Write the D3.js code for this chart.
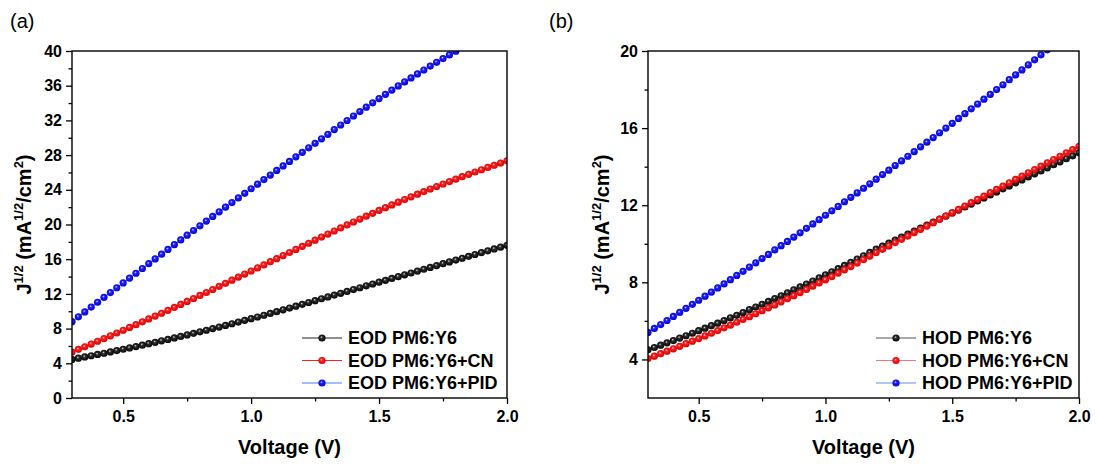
<!DOCTYPE html>
<html>
<head>
<meta charset="utf-8">
<script src="https://cdn.jsdelivr.net/npm/d3@7"></script>
<style>
  body { margin: 0; background: #fff; }
  text { font-family: "Liberation Sans", Arial, sans-serif; fill: #000; }
</style>
</head>
<body>
<svg id="chart" width="1097" height="468"></svg>
<script>
// voltage sweep (V), one point every 25 mV
const voltage = [0.3,0.325,0.35,0.375,0.4,0.425,0.45,0.475,0.5,0.525,0.55,0.575,0.6,0.625,0.65,0.675,0.7,0.725,0.75,0.775,0.8,0.825,0.85,0.875,0.9,0.925,0.95,0.975,1.0,1.025,1.05,1.075,1.1,1.125,1.15,1.175,1.2,1.225,1.25,1.275,1.3,1.325,1.35,1.375,1.4,1.425,1.45,1.475,1.5,1.525,1.55,1.575,1.6,1.625,1.65,1.675,1.7,1.725,1.75,1.775,1.8,1.825,1.85,1.875,1.9,1.925,1.95,1.975,2.0];

// (a) electron-only devices, J^1/2
const eodPM6Y6 = [4.45,4.59,4.73,4.87,5.02,5.16,5.31,5.47,5.62,5.77,5.93,6.09,6.26,6.42,6.59,6.75,6.93,7.10,7.27,7.45,7.63,7.81,8.00,8.18,8.37,8.56,8.75,8.95,9.14,9.34,9.54,9.75,9.95,10.16,10.37,10.58,10.80,11.01,11.22,11.44,11.65,11.86,12.07,12.29,12.50,12.71,12.93,13.14,13.35,13.56,13.78,13.99,14.20,14.41,14.63,14.84,15.05,15.26,15.48,15.69,15.90,16.11,16.33,16.54,16.75,16.96,17.18,17.39,17.60];
const eodPM6Y6CN = [5.30,5.61,5.91,6.22,6.54,6.85,7.17,7.49,7.81,8.13,8.45,8.78,9.11,9.44,9.77,10.11,10.45,10.79,11.13,11.47,11.82,12.16,12.51,12.87,13.22,13.58,13.93,14.29,14.64,15.00,15.35,15.71,16.06,16.42,16.77,17.13,17.48,17.84,18.19,18.55,18.90,19.25,19.60,19.95,20.29,20.63,20.96,21.29,21.62,21.94,22.26,22.57,22.88,23.19,23.49,23.79,24.09,24.38,24.67,24.95,25.23,25.51,25.78,26.05,26.31,26.58,26.83,27.09,27.34];
const eodPM6Y6PID = [8.80,9.36,9.92,10.48,11.04,11.60,12.15,12.71,13.27,13.82,14.38,14.93,15.48,16.03,16.58,17.13,17.68,18.22,18.77,19.31,19.85,20.39,20.93,21.46,22.00,22.53,23.06,23.59,24.12,24.65,25.18,25.70,26.23,26.75,27.27,27.80,28.32,28.84,29.36,29.88,30.40,30.94,31.47,31.99,32.51,33.02,33.53,34.03,34.52,35.01,35.49,35.97,36.44,36.90,37.36,37.81,38.26,38.70,39.13,39.55,39.98];

// (b) hole-only devices, J^1/2
const hodPM6Y6 = [4.50,4.62,4.74,4.86,4.98,5.11,5.23,5.36,5.49,5.62,5.75,5.88,6.02,6.16,6.29,6.43,6.58,6.72,6.86,7.01,7.16,7.30,7.45,7.61,7.76,7.91,8.07,8.23,8.39,8.55,8.71,8.88,9.04,9.21,9.38,9.55,9.72,9.88,10.03,10.19,10.35,10.50,10.66,10.81,10.97,11.13,11.28,11.44,11.60,11.75,11.91,12.06,12.22,12.38,12.53,12.69,12.85,13.00,13.16,13.31,13.47,13.63,13.78,13.94,14.10,14.25,14.41,14.56,14.72];
const hodPM6Y6CN = [4.05,4.17,4.30,4.43,4.55,4.68,4.82,4.95,5.08,5.22,5.36,5.50,5.64,5.78,5.93,6.08,6.22,6.37,6.53,6.68,6.83,6.99,7.15,7.31,7.47,7.63,7.80,7.97,8.13,8.30,8.48,8.65,8.82,9.00,9.18,9.36,9.54,9.71,9.89,10.06,10.23,10.40,10.58,10.75,10.92,11.09,11.27,11.44,11.61,11.78,11.96,12.13,12.30,12.47,12.65,12.82,12.99,13.16,13.34,13.51,13.68,13.85,14.03,14.20,14.37,14.54,14.72,14.89,15.06];
const hodPM6Y6PID = [5.40,5.61,5.81,6.02,6.23,6.44,6.65,6.86,7.07,7.28,7.49,7.71,7.92,8.14,8.36,8.57,8.79,9.01,9.23,9.45,9.68,9.90,10.12,10.35,10.57,10.80,11.03,11.25,11.48,11.71,11.94,12.18,12.41,12.64,12.88,13.11,13.35,13.59,13.82,14.06,14.30,14.54,14.78,15.03,15.27,15.51,15.76,16.00,16.25,16.50,16.75,17.00,17.25,17.50,17.75,18.00,18.25,18.51,18.76,19.02,19.28,19.54,19.80,20.06];

const xMajor = [0.5, 1.0, 1.5, 2.0];
const xMinor = [0.75, 1.25, 1.75];
const yMajorA = [0, 4, 8, 12, 16, 20, 24, 28, 32, 36, 40];
const yMinorA = [2, 6, 10, 14, 18, 22, 26, 30, 34, 38];
const yMajorB = [4, 8, 12, 16, 20];
const yMinorB = [6, 10, 14, 18];

const namesA = ["EOD PM6:Y6", "EOD PM6:Y6+CN", "EOD PM6:Y6+PID"];
const namesB = ["HOD PM6:Y6", "HOD PM6:Y6+CN", "HOD PM6:Y6+PID"];

const balls = ["black", "red", "blue"];
const ballStops = {
  black: ["#e0e0e0", "#2e2e2e", "#000000"],
  red:   ["#ffe0e0", "#ff2020", "#d00000"],
  blue:  ["#e0e0ff", "#2020ff", "#0000c8"]
};
const lineColorsA = ["#222", "#ff2020", "#4a7ff0"];
const lineColorsB = ["#555", "#f07878", "#5a90f0"];

const svg = d3.select("#chart");
const defs = svg.append("defs");

balls.forEach(b => {
  const g = defs.append("radialGradient")
    .attr("id", "ball-" + b)
    .attr("cx", "50%").attr("cy", "50%").attr("r", "55%")
    .attr("fx", "40%").attr("fy", "36%");
  g.append("stop").attr("offset", "0%").attr("stop-color", ballStops[b][0]);
  g.append("stop").attr("offset", "32%").attr("stop-color", ballStops[b][1]);
  g.append("stop").attr("offset", "100%").attr("stop-color", ballStops[b][2]);
});

function yTitle(x, y) {
  const t = svg.append("text")
    .attr("transform", `translate(${x},${y}) rotate(-90)`)
    .attr("text-anchor", "middle")
    .style("font-weight", "bold")
    .style("font-size", "20px");
  t.append("tspan").text("J");
  t.append("tspan").attr("dy", -8).style("font-size", "13px").text("1/2");
  t.append("tspan").attr("dy", 8).text(" (mA");
  t.append("tspan").attr("dy", -8).style("font-size", "13px").text("1/2");
  t.append("tspan").attr("dy", 8).text("/cm");
  t.append("tspan").attr("dy", -8).style("font-size", "13px").text("2");
  t.append("tspan").attr("dy", 8).text(")");
}

function drawPanel(p) {
  const x = d3.scaleLinear().domain([0.3, 2.0]).range([p.left, p.right]);
  const y = d3.scaleLinear().domain(p.yDomain).range([398, 51]);
  const g = svg.append("g");

  g.append("clipPath").attr("id", "clip-" + p.id)
    .append("rect")
    .attr("x", p.left).attr("y", 51)
    .attr("width", p.right - p.left).attr("height", 347);

  const plot = g.append("g").attr("clip-path", `url(#clip-${p.id})`);

  p.series.forEach((s, k) => {
    const pts = s.map((v, i) => [voltage[i], v]);
    plot.append("path")
      .datum(pts)
      .attr("fill", "none")
      .attr("stroke", p.lineColors[k])
      .attr("stroke-width", 1)
      .attr("d", d3.line().x(d => x(d[0])).y(d => y(d[1])));
    plot.selectAll(null)
      .data(pts)
      .join("circle")
      .attr("cx", d => x(d[0]))
      .attr("cy", d => y(d[1]))
      .attr("r", 3.6)
      .attr("fill", `url(#ball-${balls[k]})`);
  });

  // frame
  g.append("rect")
    .attr("x", p.left).attr("y", 51)
    .attr("width", p.right - p.left).attr("height", 347)
    .attr("fill", "none").attr("stroke", "#000").attr("stroke-width", 1.4);

  // axes
  g.append("g").attr("transform", "translate(0,398)")
    .call(d3.axisBottom(x).tickValues(xMajor).tickSize(6).tickPadding(7).tickFormat(d3.format(".1f")));
  g.append("g").attr("transform", "translate(0,398)")
    .call(d3.axisBottom(x).tickValues(xMinor).tickSize(3.5).tickFormat(""));
  g.append("g").attr("transform", `translate(${p.left},0)`)
    .call(d3.axisLeft(y).tickValues(p.yMajor).tickSize(6).tickPadding(4).tickFormat(d3.format("d")));
  g.append("g").attr("transform", `translate(${p.left},0)`)
    .call(d3.axisLeft(y).tickValues(p.yMinor).tickSize(3.5).tickFormat(""));

  g.selectAll(".domain").remove();
  g.selectAll(".tick line").attr("stroke", "#000").attr("stroke-width", 1.3);
  g.selectAll(".tick text")
    .style("font-family", '"Liberation Sans", Arial, sans-serif')
    .style("font-size", "16px").style("font-weight", "bold").attr("fill", "#000");

  // x title
  svg.append("text")
    .attr("x", (p.left + p.right) / 2).attr("y", 454)
    .attr("text-anchor", "middle")
    .style("font-weight", "bold").style("font-size", "20px")
    .text("Voltage (V)");

  yTitle(p.titleX, 224.5);

  // panel label
  svg.append("text")
    .attr("x", p.labelX).attr("y", 28)
    .style("font-size", "20px")
    .text(`(${p.id})`);

  // legend
  const leg = svg.append("g");
  p.names.forEach((name, k) => {
    const ly = 338 + k * 22.5;
    leg.append("line")
      .attr("x1", p.legendX).attr("x2", p.legendX + 40)
      .attr("y1", ly).attr("y2", ly)
      .attr("stroke", p.lineColors[k]).attr("stroke-width", 1.2);
    leg.append("circle")
      .attr("cx", p.legendX + 20).attr("cy", ly).attr("r", 3.6)
      .attr("fill", `url(#ball-${balls[k]})`);
    leg.append("text")
      .attr("x", p.legendX + 46).attr("y", ly)
      .attr("dy", "0.36em")
      .style("font-weight", "bold").style("font-size", "18px")
      .text(name);
  });
}

drawPanel({
  id: "a", left: 72, right: 507, yDomain: [0, 40],
  yMajor: yMajorA, yMinor: yMinorA,
  series: [eodPM6Y6, eodPM6Y6CN, eodPM6Y6PID],
  names: namesA, lineColors: lineColorsA,
  titleX: 31, labelX: 10, legendX: 302
});

drawPanel({
  id: "b", left: 648, right: 1079, yDomain: [2, 20],
  yMajor: yMajorB, yMinor: yMinorB,
  series: [hodPM6Y6, hodPM6Y6CN, hodPM6Y6PID],
  names: namesB, lineColors: lineColorsB,
  titleX: 609, labelX: 549, legendX: 876
});
</script>
</body>
</html>
